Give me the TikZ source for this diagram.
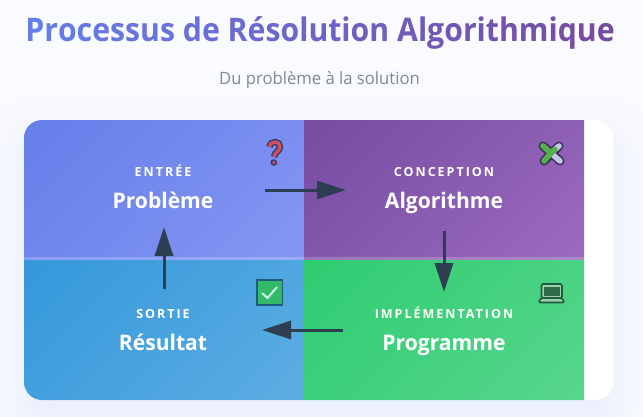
\documentclass[tikz,border=0pt]{standalone}
\usepackage{fontspec}
\setmainfont{Open Sans}
\usepackage{xcolor}
\usetikzlibrary{positioning,arrows.meta}
\definecolor{titleA}{HTML}{667EEA}
\definecolor{titleB}{HTML}{764BA2}
\definecolor{titleC}{HTML}{8497F3}
\definecolor{titleD}{HTML}{9B6BBF}
\definecolor{arrowc}{HTML}{2C3E50}
\definecolor{subc}{HTML}{7F8C8D}
\definecolor{blueA}{HTML}{3498DB}
\definecolor{blueB}{HTML}{5DADE2}
\definecolor{greenA}{HTML}{2ECC71}
\definecolor{greenB}{HTML}{58D68D}
\definecolor{qmark}{HTML}{D0505F}
\definecolor{qline}{HTML}{3A3F6B}
\definecolor{pzline}{HTML}{3F2F5E}
\definecolor{pzgreen}{HTML}{55B04E}
\definecolor{pzlight}{HTML}{C3C6E4}
\definecolor{lapline}{HTML}{1F5C3C}
\definecolor{lapscreen}{HTML}{2F6B49}
\definecolor{lapbase}{HTML}{9CD0AE}
\definecolor{boxline}{HTML}{1F5A80}
\definecolor{boxfill}{HTML}{33BA66}
\definecolor{boxtick}{HTML}{C9EFE6}
\newcounter{gradpos}
\makeatletter
\def\gradtext#1{\setcounter{gradpos}{0}\@tfor\gradch:=#1\do{\textcolor{titleB!\the\numexpr100*\value{gradpos}/36\relax!titleA}{\gradch}\stepcounter{gradpos}}}
\makeatother
\tikzset{cell/.style 2 args={minimum width=280pt, minimum height=140pt, path picture={\shade[top color=#1, bottom color=#2, shading angle=45] ([shift={(-148.5pt,-148.5pt)}]path picture bounding box.center) rectangle ([shift={(148.5pt,148.5pt)}]path picture bounding box.center);}}}
\begin{document}
\begin{tikzpicture}[x=1pt, y=-1pt, every node/.style={inner sep=0pt}]
\tikzstyle{kicker}=[anchor=base, text=white, font=\fontsize{12.5}{12.5}\selectfont\bfseries\addfontfeatures{LetterSpace=16}]
\tikzstyle{big}=[anchor=base, text=white, font=\fontsize{21.5}{21.5}\selectfont\bfseries\addfontfeatures{FakeStretch=.98}]
\tikzstyle{flow}=[draw=arrowc, line width=3pt, -{Triangle[length=29pt, width=18pt]}]
\useasboundingbox (0,0) rectangle (643,416);
\fill[white!97!titleA] (0,0) rectangle (643,416);
\foreach \s in {70,68,...,-20}{
  \pgfmathsetmacro\shmix{3+13*(1-(\s+30)/100)^2}
  \pgfmathsetmacro\shrad{max(4,18+\s)}
  \fill[titleA!\shmix!white, rounded corners=\shrad pt] (24-\s,140-\s) rectangle (613+\s,420+\s);
}
\node[font=\fontsize{32.5}{32.5}\selectfont\bfseries\addfontfeatures{FakeStretch=.93}] (title) at (320,33) {\gradtext{Processus~de~Résolution~Algorithmique}};
\node[text=subc, font=\fontsize{17}{17}\selectfont\addfontfeatures{FakeStretch=.98}] (sub) at (319.5,80) {Du problème à la solution};
\fill[white, rounded corners=18pt] (24,120) rectangle (613,400);
\begin{scope}
\clip[rounded corners=18pt] (24,120) rectangle (613,400);
\node[cell={titleA}{titleC}] (prob) at (164,190) {};
\node[cell={titleB}{titleD}] (algo) at (444,190) {};
\node[cell={blueA}{blueB}] (res) at (164,330) {};
\node[cell={greenA}{greenB}] (prog) at (444,330) {};
\fill[white, opacity=0.2] (24,257) rectangle (584,260);
\end{scope}
\node[kicker] (kprob) at (163,176) {ENTRÉE};
\node[big] (lprob) at (163,208) {Problème};
\node[kicker] (kalgo) at (444,176) {CONCEPTION};
\node[big] (lalgo) at (444,208) {Algorithme};
\node[kicker] (kprog) at (444,318) {IMPLÉMENTATION};
\node[big] (lprog) at (444,350) {Programme};
\node[kicker] (kres) at (163,318) {SORTIE};
\node[big] (lres) at (163,350) {Résultat};
\coordinate (a1) at (265,190);
\coordinate (b1) at (346,190);
\coordinate (a2) at (444,231);
\coordinate (b2) at (444,292);
\coordinate (a3) at (343,330);
\coordinate (b3) at (262,330);
\coordinate (a4) at (164,289);
\coordinate (b4) at (164,227);
\draw[flow] (a1)--(b1);
\draw[flow] (a2)--(b2);
\draw[flow] (a3)--(b3);
\draw[flow] (a4)--(b4);
% question mark
\foreach \c/\w in {qline/6.5pt, qmark/3.4pt}{
  \draw[\c, line width=\w] (269.5,147) .. controls (270,143.5) and (272.5,142) .. (275,142) .. controls (278,142) and (280,144) .. (280,147) .. controls (280,151) and (274.5,152) .. (274,157);
  \draw[\c, line width=\w, line cap=round] (273.7,162.4)--(273.9,162.6);
}
% puzzle
\draw[pzline, line width=9pt, line cap=round] (543,146)--(560,161) (559,146)--(544,161);
\draw[pzlight, line width=5.6pt, line cap=round] (551,153)--(560,161) (551,153)--(559,146);
\draw[pzgreen, line width=5.6pt, line cap=round] (543,146)--(551,153) (551,153)--(544,161) (551,153)--(555,149.5);
% laptop
\draw[lapline, fill=lapbase, line width=1.6pt, rounded corners=1.5pt] (541.5,284) rectangle (562,298);
\fill[lapscreen] (544,286.5) rectangle (559.5,296);
\draw[lapline, fill=lapbase, line width=1.6pt, rounded corners=1.5pt] (541,298)--(562,298)--(564.5,302.5)--(538.5,302.5)--cycle;
% check box
\draw[boxline, fill=boxfill, line width=1.8pt] (257,280) rectangle (282.5,305);
\draw[boxtick, line width=2pt] (262,293)--(267.5,298)--(277,287);
\end{tikzpicture}
\end{document}
